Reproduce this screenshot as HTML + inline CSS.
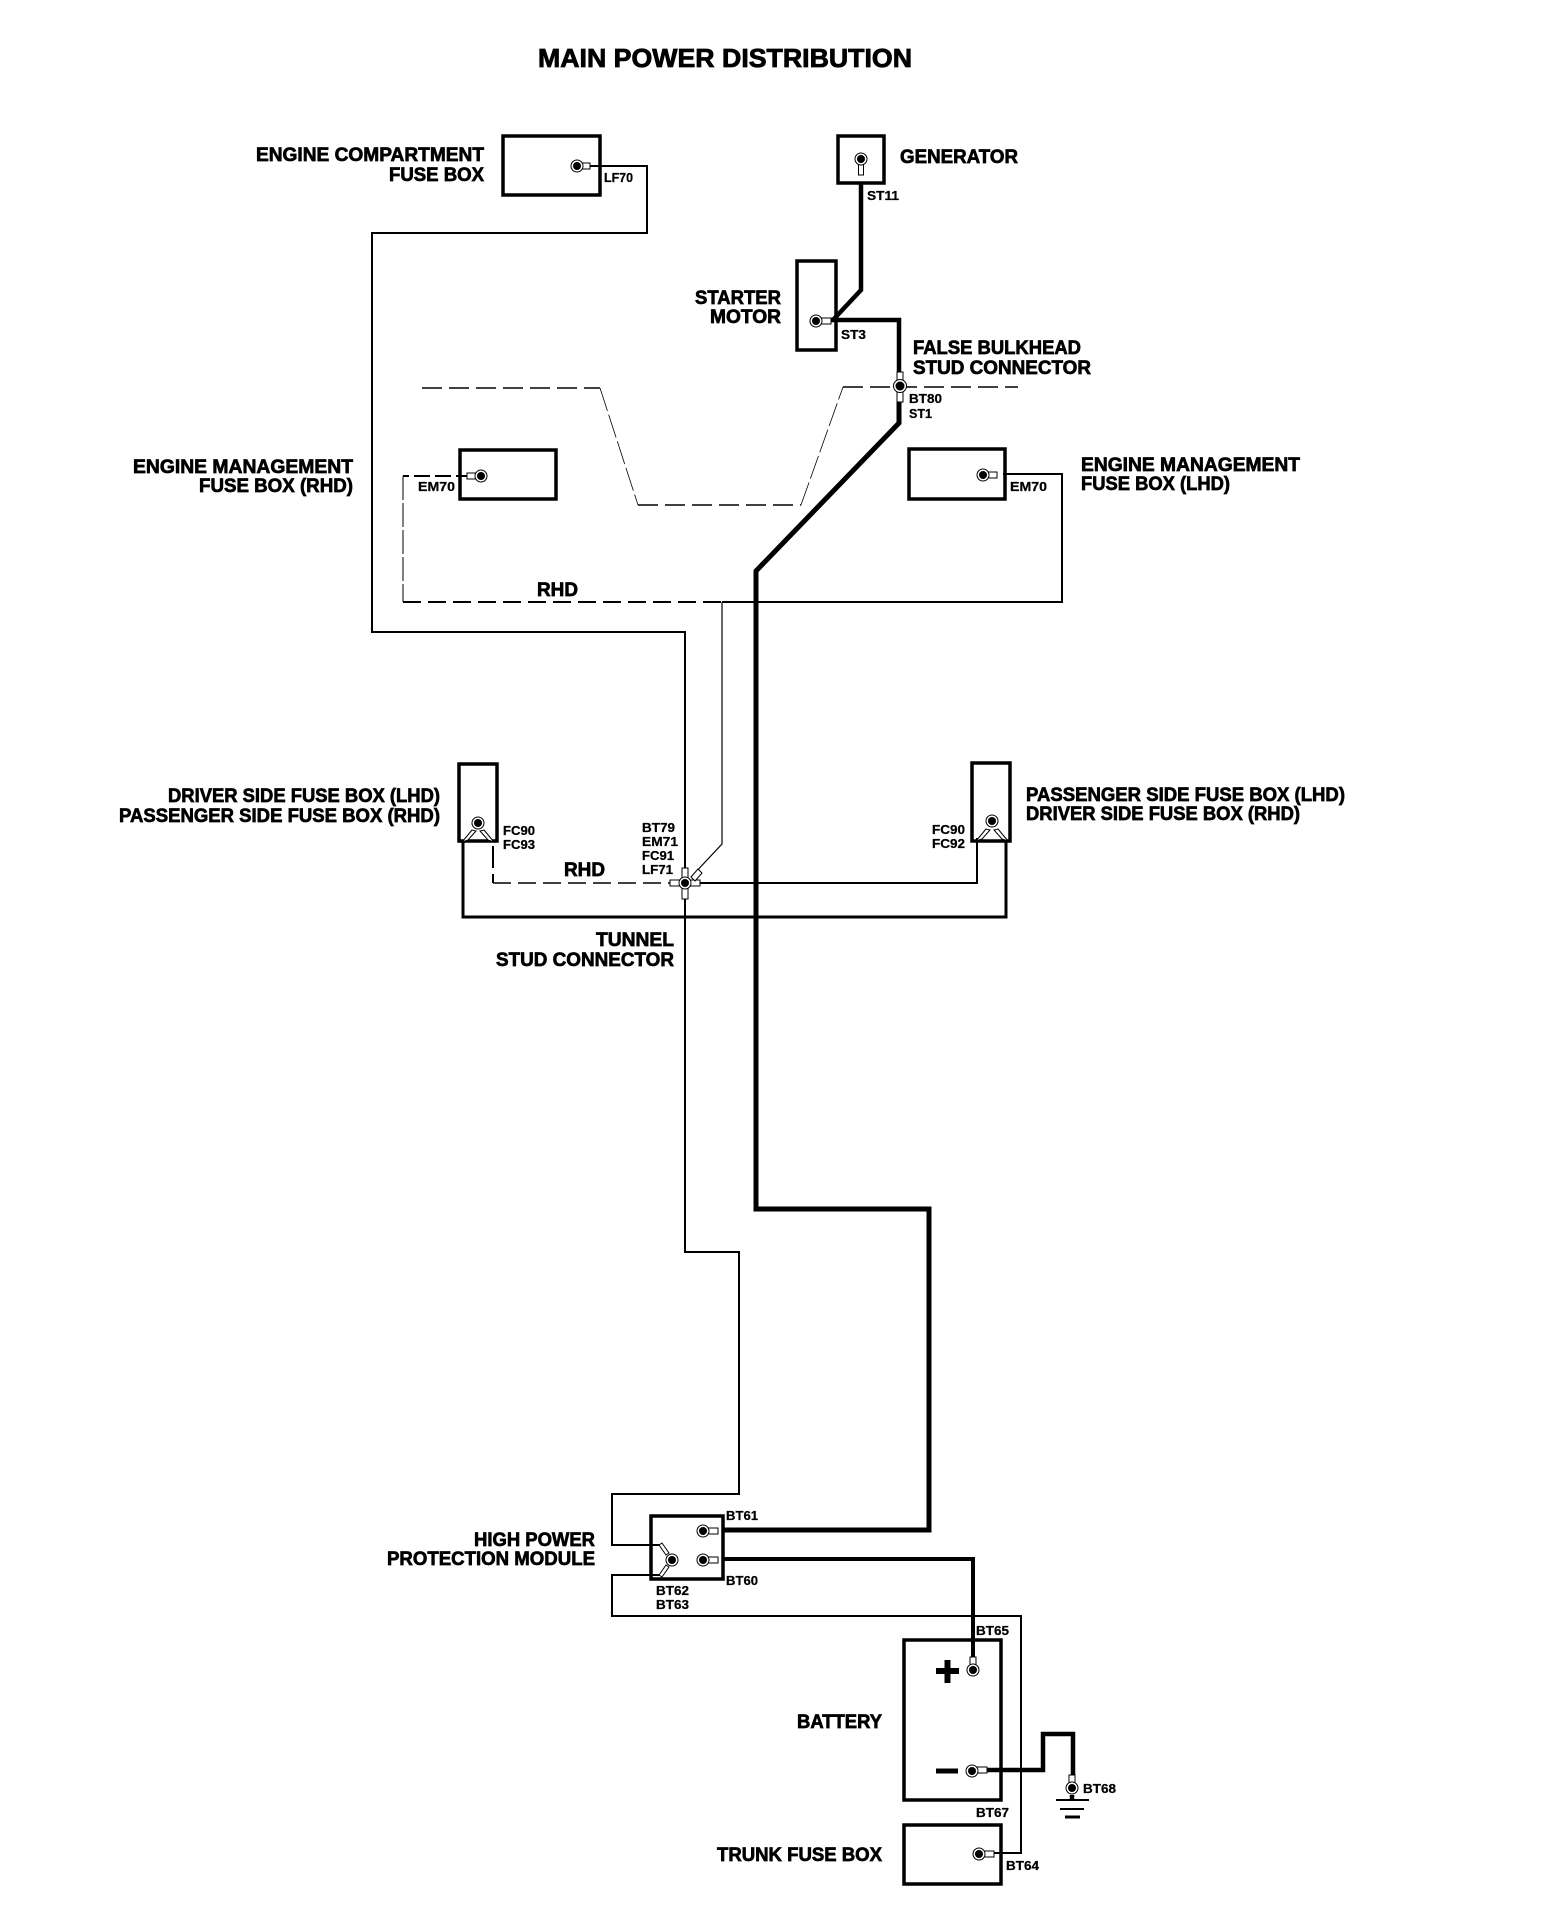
<!DOCTYPE html>
<html><head><meta charset="utf-8"><title>Main Power Distribution</title>
<style>
html,body{margin:0;padding:0;background:#fff}
svg{display:block}
text{font-family:"Liberation Sans",sans-serif;font-weight:bold;fill:#000}
.l{font-size:19px;stroke:#000;stroke-width:.7}
.s{font-size:13px;stroke:#000;stroke-width:.25}
.w{fill:none;stroke:#000;stroke-linejoin:miter}
.b{fill:#fff;stroke:#000;stroke-width:3.5}
</style></head><body>
<svg width="1568" height="1926" viewBox="0 0 1568 1926" xmlns="http://www.w3.org/2000/svg">
<rect width="1568" height="1926" fill="#fff"/>

<!-- boxes -->
<rect class="b" x="503" y="136" width="97" height="59"/>
<rect class="b" x="838" y="136" width="46" height="47"/>
<rect class="b" x="797" y="261" width="39" height="89"/>
<rect class="b" x="460" y="450" width="96" height="49"/>
<rect class="b" x="909" y="449" width="96" height="50"/>
<rect class="b" x="459" y="764" width="38" height="77"/>
<rect class="b" x="972" y="763" width="38" height="78"/>
<rect class="b" x="651" y="1516" width="72" height="63"/>
<rect class="b" x="904" y="1640" width="97" height="160"/>
<rect class="b" x="904" y="1825" width="97" height="59"/>

<!-- thin solid wires -->
<path class="w" stroke-width="2" d="M590 166H647V233H372V632H685V1252H739V1494H612V1545H660"/>
<path class="w" stroke-width="2" d="M660 1575H612V1616H1021V1853H992"/>
<path class="w" stroke-width="2" d="M722 602H1062V474H1003"/>
<path class="w" stroke-width="1.2" d="M722 602V844L692 876"/>
<path class="w" stroke-width="2" d="M690 883H977V838"/>
<path class="w" stroke-width="3" d="M463 840V917H1006V840"/>

<!-- dashed wires -->
<path class="w" stroke-width="2" stroke-dasharray="16 5" d="M472 476H403"/>
<path class="w" stroke-width="1" stroke-dasharray="24 3" d="M403 476V602"/>
<path class="w" stroke-width="2" stroke-dasharray="18 7" d="M403 602H722"/>
<path class="w" stroke-width="2" stroke-dasharray="22 6" d="M493 846V883"/>
<path class="w" stroke-width="1.6" stroke-dasharray="18 7" d="M493 883H680"/>

<!-- body outline dashed -->
<path class="w" stroke-width="1.5" stroke-dasharray="20 7" d="M422 388H600"/>
<path class="w" stroke-width=".8" stroke-dasharray="24 4" d="M600 388L638 505"/>
<path class="w" stroke-width="1.6" stroke-dasharray="20 7" d="M638 505H801"/>
<path class="w" stroke-width=".8" stroke-dasharray="24 4" d="M801 505L843 387"/>
<path class="w" stroke-width="1.5" stroke-dasharray="20 7" d="M843 387H1018"/>

<!-- heavy wires -->
<path class="w" stroke-width="4.5" d="M861 184V290L832 321"/>
<path class="w" stroke-width="4.5" d="M828 320H899V372"/>
<path class="w" stroke-width="5" d="M899 402V423L756 571V1209H929V1530H723"/>
<path class="w" stroke-width="4" d="M723 1559H973V1657"/>
<path class="w" stroke-width="4.5" d="M985 1770H1043V1734H1073V1775"/>
<path class="w" stroke-width="4.5" d="M1072 1795V1801"/>

<!-- ground -->
<path class="w" stroke-width="2" d="M1056 1800H1089"/>
<path class="w" stroke-width="2" d="M1060 1809H1084"/>
<path class="w" stroke-width="3" d="M1065 1817H1080"/>

<!-- battery symbols -->
<rect x="936" y="1668" width="23" height="6"/>
<rect x="944.500" y="1660" width="6" height="23"/>
<rect x="936" y="1768.500" width="22" height="5"/>

<!-- lugs -->
<g fill="#fff" stroke="#000" stroke-width="1">
<rect x="581" y="163" width="9" height="6"/><circle cx="577" cy="166" r="6"/>
<rect x="858.500" y="163" width="5" height="12"/><circle cx="861" cy="159" r="6"/>
<rect x="821" y="318" width="10" height="6"/><circle cx="816" cy="321" r="6"/>
<rect x="897" y="372" width="6" height="10"/><rect x="897" y="391" width="6" height="11"/><circle cx="900" cy="386" r="6.500"/>
<rect x="467" y="473" width="9" height="6"/><circle cx="481" cy="476" r="6"/>
<rect x="988" y="472" width="9" height="6"/><circle cx="983" cy="475" r="6"/>
<rect x="682" y="868" width="6" height="10"/><rect x="682" y="888" width="6" height="11"/><rect x="670" y="880" width="10" height="6"/><rect x="690" y="880" width="10" height="6"/>
<path d="M691 877L698 869L702 873L695 881Z"/><circle cx="685" cy="883" r="6"/>
<path d="M472 830L462 842L468 840L476 831Z"/><path d="M484 830L494 842L488 840L480 831Z"/><circle cx="478" cy="823" r="6"/>
<path d="M986 829L976 841L982 839L990 830Z"/><path d="M998 829L1008 841L1002 839L994 830Z"/><circle cx="992" cy="821" r="6"/>
<rect x="708" y="1528" width="10" height="6"/><circle cx="703" cy="1531" r="6"/>
<rect x="708" y="1557" width="10" height="6"/><circle cx="703" cy="1560" r="6"/>
<path d="M666 1555L659 1545L662 1543L669 1553Z"/><path d="M666 1565L659 1575L662 1577L669 1567Z"/><circle cx="672" cy="1560" r="6"/>
<rect x="970" y="1657" width="6" height="9"/><circle cx="973" cy="1670" r="6"/>
<rect x="977" y="1767" width="10" height="6"/><circle cx="972" cy="1771" r="6"/>
<rect x="1069" y="1775" width="6" height="8"/><circle cx="1072" cy="1788" r="6"/>
<rect x="984" y="1851" width="10" height="6"/><circle cx="979" cy="1854" r="6"/>
</g>
<g fill="#000">
<circle cx="577" cy="166" r="4"/><circle cx="861" cy="159" r="4"/><circle cx="816" cy="321" r="4"/><circle cx="900" cy="386" r="4.500"/><circle cx="481" cy="476" r="4"/><circle cx="983" cy="475" r="4"/><circle cx="685" cy="883" r="4"/><circle cx="478" cy="823" r="4"/><circle cx="992" cy="821" r="4"/><circle cx="703" cy="1531" r="4"/><circle cx="703" cy="1560" r="4"/><circle cx="672" cy="1560" r="4"/><circle cx="973" cy="1670" r="4"/><circle cx="972" cy="1771" r="4"/><circle cx="1072" cy="1788" r="4"/><circle cx="979" cy="1854" r="4"/>
</g>

<!-- labels -->
<text x="538" y="67" font-size="26" stroke="#000" stroke-width=".8" textLength="374" lengthAdjust="spacingAndGlyphs">MAIN POWER DISTRIBUTION</text>

<text class="l" x="256" y="161" textLength="228" lengthAdjust="spacingAndGlyphs">ENGINE COMPARTMENT</text>
<text class="l" x="389" y="181" textLength="95" lengthAdjust="spacingAndGlyphs">FUSE BOX</text>
<text class="l" x="900" y="163" textLength="118" lengthAdjust="spacingAndGlyphs">GENERATOR</text>
<text class="l" x="695" y="304" textLength="86" lengthAdjust="spacingAndGlyphs">STARTER</text>
<text class="l" x="710" y="323" textLength="71" lengthAdjust="spacingAndGlyphs">MOTOR</text>
<text class="l" x="913" y="354" textLength="168" lengthAdjust="spacingAndGlyphs">FALSE BULKHEAD</text>
<text class="l" x="913" y="374" textLength="178" lengthAdjust="spacingAndGlyphs">STUD CONNECTOR</text>
<text class="l" x="133" y="473" textLength="220" lengthAdjust="spacingAndGlyphs">ENGINE MANAGEMENT</text>
<text class="l" x="199" y="492" textLength="154" lengthAdjust="spacingAndGlyphs">FUSE BOX (RHD)</text>
<text class="l" x="1081" y="471" textLength="219" lengthAdjust="spacingAndGlyphs">ENGINE MANAGEMENT</text>
<text class="l" x="1081" y="490" textLength="149" lengthAdjust="spacingAndGlyphs">FUSE BOX (LHD)</text>
<text class="l" x="537" y="596" textLength="41" lengthAdjust="spacingAndGlyphs">RHD</text>
<text class="l" x="168" y="802" textLength="272" lengthAdjust="spacingAndGlyphs">DRIVER SIDE FUSE BOX (LHD)</text>
<text class="l" x="119" y="822" textLength="321" lengthAdjust="spacingAndGlyphs">PASSENGER SIDE FUSE BOX (RHD)</text>
<text class="l" x="1026" y="801" textLength="319" lengthAdjust="spacingAndGlyphs">PASSENGER SIDE FUSE BOX (LHD)</text>
<text class="l" x="1026" y="820" textLength="274" lengthAdjust="spacingAndGlyphs">DRIVER SIDE FUSE BOX (RHD)</text>
<text class="l" x="564" y="876" textLength="41" lengthAdjust="spacingAndGlyphs">RHD</text>
<text class="l" x="596" y="946" textLength="78" lengthAdjust="spacingAndGlyphs">TUNNEL</text>
<text class="l" x="496" y="966" textLength="178" lengthAdjust="spacingAndGlyphs">STUD CONNECTOR</text>
<text class="l" x="474" y="1546" textLength="121" lengthAdjust="spacingAndGlyphs">HIGH POWER</text>
<text class="l" x="387" y="1565" textLength="208" lengthAdjust="spacingAndGlyphs">PROTECTION MODULE</text>
<text class="l" x="797" y="1728" textLength="85" lengthAdjust="spacingAndGlyphs">BATTERY</text>
<text class="l" x="717" y="1861" textLength="165" lengthAdjust="spacingAndGlyphs">TRUNK FUSE BOX</text>

<text class="s" x="604" y="182" textLength="29" lengthAdjust="spacingAndGlyphs">LF70</text>
<text class="s" x="867" y="200" textLength="32" lengthAdjust="spacingAndGlyphs">ST11</text>
<text class="s" x="841" y="339" textLength="25" lengthAdjust="spacingAndGlyphs">ST3</text>
<text class="s" x="909" y="403" textLength="33" lengthAdjust="spacingAndGlyphs">BT80</text>
<text class="s" x="909" y="418" textLength="23" lengthAdjust="spacingAndGlyphs">ST1</text>
<text class="s" x="418" y="491" textLength="37" lengthAdjust="spacingAndGlyphs">EM70</text>
<text class="s" x="1010" y="491" textLength="37" lengthAdjust="spacingAndGlyphs">EM70</text>
<text class="s" x="503" y="835" textLength="32" lengthAdjust="spacingAndGlyphs">FC90</text>
<text class="s" x="503" y="849" textLength="32" lengthAdjust="spacingAndGlyphs">FC93</text>
<text class="s" x="932" y="834" textLength="33" lengthAdjust="spacingAndGlyphs">FC90</text>
<text class="s" x="932" y="848" textLength="33" lengthAdjust="spacingAndGlyphs">FC92</text>
<text class="s" x="642" y="832" textLength="33" lengthAdjust="spacingAndGlyphs">BT79</text>
<text class="s" x="642" y="846" textLength="36" lengthAdjust="spacingAndGlyphs">EM71</text>
<text class="s" x="642" y="860" textLength="32" lengthAdjust="spacingAndGlyphs">FC91</text>
<text class="s" x="642" y="874" textLength="31" lengthAdjust="spacingAndGlyphs">LF71</text>
<text class="s" x="726" y="1520" textLength="32" lengthAdjust="spacingAndGlyphs">BT61</text>
<text class="s" x="726" y="1585" textLength="32" lengthAdjust="spacingAndGlyphs">BT60</text>
<text class="s" x="656" y="1595" textLength="33" lengthAdjust="spacingAndGlyphs">BT62</text>
<text class="s" x="656" y="1609" textLength="33" lengthAdjust="spacingAndGlyphs">BT63</text>
<text class="s" x="976" y="1635" textLength="33" lengthAdjust="spacingAndGlyphs">BT65</text>
<text class="s" x="976" y="1817" textLength="33" lengthAdjust="spacingAndGlyphs">BT67</text>
<text class="s" x="1006" y="1870" textLength="33" lengthAdjust="spacingAndGlyphs">BT64</text>
<text class="s" x="1083" y="1793" textLength="33" lengthAdjust="spacingAndGlyphs">BT68</text>
</svg>
</body></html>
